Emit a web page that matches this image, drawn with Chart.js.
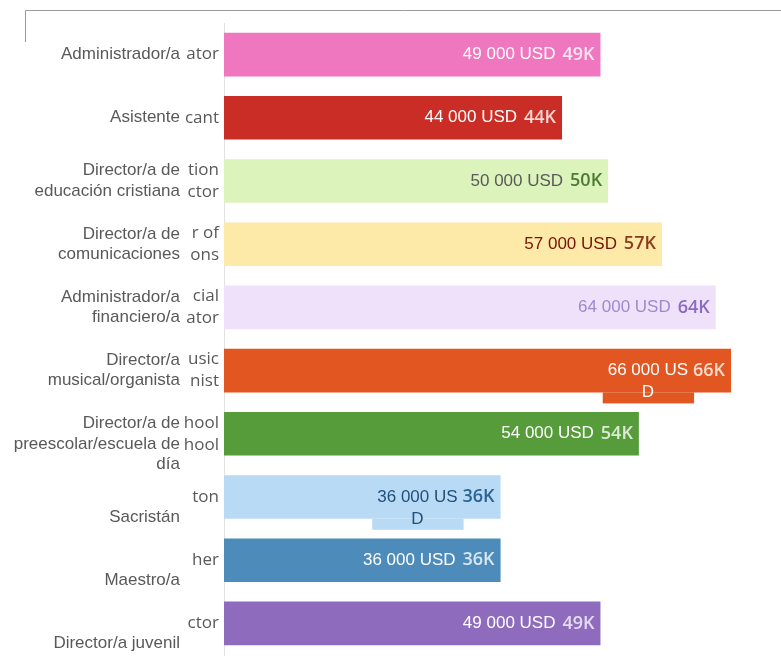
<!DOCTYPE html>
<html>
<head>
<meta charset="utf-8">
<script src="https://cdn.jsdelivr.net/npm/chart.js@4"></script>
<style>
  html, body { margin: 0; padding: 0; background: #fff; }
  #wrap { width: 781px; height: 662px; position: relative; }
</style>
</head>
<body>
<div id="wrap"><canvas id="salaryChart" width="781" height="662"></canvas></div>
<script>
// categories (translated labels, blank lines push some labels down like in the picture)
const categories = [
  ['Administrador/a'],
  ['Asistente'],
  ['Director/a de', 'educación cristiana'],
  ['Director/a de', 'comunicaciones'],
  ['Administrador/a', 'financiero/a'],
  ['Director/a', 'musical/organista'],
  ['', 'Director/a de', 'preescolar/escuela de', 'día'],
  ['', '', 'Sacristán'],
  ['', '', 'Maestro/a'],
  ['', '', 'Director/a juvenil']
];
// leftover bits of the original english labels
const origFragments = [
  ['ator'], ['cant'], ['tion', 'ctor'], ['r of', 'ons'], ['cial', 'ator'],
  ['usic', 'nist'], ['hool', 'hool'], ['ton'], ['her'], ['ctor']
];
const salaries = [49000, 44000, 50000, 57000, 64000, 66000, 54000, 36000, 36000, 49000];
const barColors = ['#ee77c0', '#c92d26', '#dcf3bc', '#fde9a8', '#efe1fa',
                   '#e25622', '#569c3a', '#b8daf4', '#4d8bba', '#8e6bbd'];
const usdColors = ['#ffffff', '#ffffff', '#5a5a5a', '#7a1200', '#a088d0',
                   '#ffffff', '#ffffff', '#1f4f7a', '#ffffff', '#ffffff'];
const kColors = ['#fbe3f1', '#f6d6d3', '#4d7b35', '#8b3a1b', '#8c6ac4',
                 '#f8dccc', '#dcebd5', '#2b6494', '#d8e6f1', '#e4dbf1'];
const wrapped = [5, 7];

function usdText(v) { return (v / 1000) + ' 000 USD'; }
function kText(v) { return (v / 1000) + 'K'; }

const labelPlugin = {
  id: 'labelPlugin',
  beforeDraw(chart) {
    const ctx = chart.ctx;
    ctx.save();
    ctx.strokeStyle = '#9a9a9a';
    ctx.lineWidth = 1;
    ctx.beginPath();
    ctx.moveTo(25.5, 42);
    ctx.lineTo(25.5, 10.5);
    ctx.lineTo(781, 10.5);
    ctx.stroke();
    ctx.restore();
  },
  afterDatasetsDraw(chart) {
    const ctx = chart.ctx;
    const meta = chart.getDatasetMeta(0);
    const yScale = chart.scales.y;
    ctx.save();
    // cropped english fragments
    ctx.save();
    ctx.beginPath();
    ctx.rect(183, 0, 38, chart.height);
    ctx.clip();
    ctx.font = '17px "Open Sans"';
    ctx.fillStyle = '#595959';
    ctx.textAlign = 'right';
    ctx.textBaseline = 'middle';
    origFragments.forEach((lines, i) => {
      const cy = yScale.getPixelForValue(i);
      const lh = 22;
      lines.forEach((t, j) => {
        ctx.fillText(t, 219, cy + (j - (lines.length - 1) / 2) * lh);
      });
    });
    ctx.restore();

    meta.data.forEach((bar, i) => {
      const end = bar.x;
      const cy = bar.y;
      const v = salaries[i];
      ctx.textBaseline = 'middle';
      ctx.textAlign = 'right';
      ctx.font = '600 18px "Open Sans"';
      ctx.fillStyle = kColors[i];
      ctx.fillText(kText(v), end - 6, cy);

      ctx.font = '17px "Liberation Sans", Arial';
      if (wrapped.includes(i)) {
        const t = usdText(v).slice(0, -1);
        const right = end - 43;
        const w = ctx.measureText(t).width;
        const left = right - w;
        ctx.fillStyle = barColors[i];
        ctx.fillRect(left - 5, bar.y + bar.height / 2, w + 11, 11);
        ctx.fillStyle = usdColors[i];
        ctx.fillText(t, right, cy);
        ctx.textAlign = 'center';
        ctx.fillText('D', left + w / 2, cy + 22);
      } else {
        ctx.fillStyle = usdColors[i];
        ctx.fillText(usdText(v), end - 45, cy);
      }
    });
    ctx.restore();
  }
};

new Chart(document.getElementById('salaryChart').getContext('2d'), {
  type: 'bar',
  data: {
    labels: categories,
    datasets: [{
      data: salaries,
      backgroundColor: barColors,
      borderWidth: 0,
      barPercentage: 0.69,
      categoryPercentage: 1
    }]
  },
  options: {
    indexAxis: 'y',
    responsive: false,
    animation: false,
    layout: { padding: { top: 23, bottom: 7, left: 0, right: 0 } },
    plugins: { legend: { display: false }, tooltip: { enabled: false } },
    scales: {
      x: { display: false, min: 0, max: 72500 },
      y: {
        afterFit(scale) {
          scale.width = 224;
          scale.paddingTop = 0;
          scale.paddingBottom = 0;
        },
        grid: { display: false },
        border: { display: true, color: '#e2e2e2' },
        ticks: {
          autoSkip: false,
          padding: 36,
          color: '#595959',
          font: { family: '"Liberation Sans", Arial', size: 17, lineHeight: 1.2 }
        }
      }
    }
  },
  plugins: [labelPlugin]
});
</script>
</body>
</html>
